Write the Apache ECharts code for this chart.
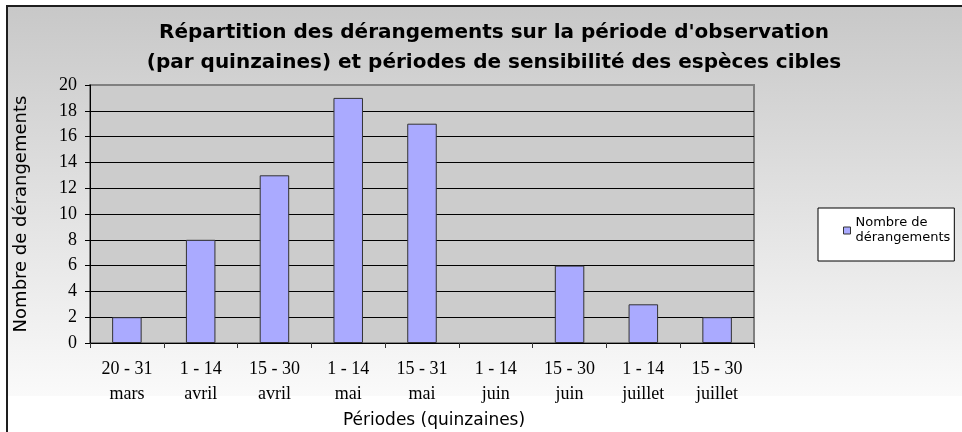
<!DOCTYPE html>
<html>
<head>
<meta charset="utf-8">
<script src="https://cdn.jsdelivr.net/npm/echarts@6/dist/echarts.min.js"></script>
<style>
  html, body { margin: 0; padding: 0; background: #fff; }
  #chart { width: 962px; height: 432px; }
</style>
</head>
<body>
<div id="chart"></div>
<script>
// Fortnight periods: day range and month
const periodRanges = ['20 - 31', '1 - 14', '15 - 30', '1 - 14', '15 - 31', '1 - 14', '15 - 30', '1 - 14', '15 - 30'];
const periodMonths = ['mars', 'avril', 'avril', 'mai', 'mai', 'juin', 'juin', 'juillet', 'juillet'];
// Number of disturbances per fortnight
const derangements = [2, 8, 13, 19, 17, 0, 6, 3, 2];
const yTicks = { min: 0, max: 20, interval: 2 };

const categories = periodRanges.map((r, i) => r + '\n' + periodMonths[i]);

// one colour per horizontal grid line; the top one blends into the plot border
const gridColors = [];
for (let v = yTicks.min; v <= yTicks.max; v += yTicks.interval) {
  gridColors.push(v === yTicks.max ? '#808080' : '#000000');
}

// empty fortnights get no outline, so nothing is drawn on the baseline
const barData = derangements.map(v => v === 0 ? { value: v, itemStyle: { borderWidth: 0 } } : v);

const chart = echarts.init(document.getElementById('chart'), null, { renderer: 'canvas' });

chart.setOption({
  backgroundColor: '#ffffff',
  animation: false,
  graphic: {
    elements: [
      {
        type: 'rect',
        z: -100,
        silent: true,
        shape: { x: 7, y: 6, width: 960, height: 390 },
        style: {
          fill: new echarts.graphic.LinearGradient(0, 0, 0, 1, [
            { offset: 0, color: '#c8c8c8' },
            { offset: 1, color: '#fafafa' }
          ])
        }
      },
      {
        type: 'rect',
        z: -90,
        silent: true,
        shape: { x: 7, y: 6, width: 962, height: 440 },
        style: { fill: 'none', stroke: '#1e1e1e', lineWidth: 2 }
      }
    ]
  },
  title: {
    text: "Répartition des dérangements sur la période d'observation\n(par quinzaines) et périodes de sensibilité des espèces cibles",
    left: 489,
    top: 13,
    textAlign: 'center',
    textStyle: {
      fontFamily: 'DejaVu Sans',
      fontWeight: 'bold',
      fontSize: 20,
      lineHeight: 30,
      color: '#000'
    }
  },
  legend: {
    orient: 'vertical',
    left: 818,
    top: 208,
    padding: [0, 4, 8, 25],
    backgroundColor: '#ffffff',
    borderColor: '#000000',
    borderWidth: 1,
    icon: 'rect',
    itemWidth: 7,
    itemHeight: 7,
    itemGap: 5,
    itemStyle: { borderColor: '#333', borderWidth: 1 },
    formatter: function (name) { return name.replace(' de ', ' de\n'); },
    textStyle: {
      fontFamily: 'DejaVu Sans',
      fontSize: 13,
      lineHeight: 15,
      color: '#000',
      padding: [15, 0, 0, 0]
    }
  },
  grid: {
    left: 90,
    right: 208,
    top: 85,
    bottom: 89,
    outerBoundsMode: 'none',
    show: true,
    backgroundColor: '#cccccc',
    borderColor: '#808080',
    borderWidth: 2
  },
  xAxis: {
    type: 'category',
    data: categories,
    name: 'Périodes (quinzaines)',
    nameLocation: 'middle',
    nameGap: 63,
    nameTextStyle: { fontFamily: 'DejaVu Sans', fontSize: 17, color: '#000', padding: [0, 0, 0, 24] },
    axisLine: { lineStyle: { color: '#000', width: 1 } },
    axisTick: { show: true, length: 5, alignWithLabel: false, lineStyle: { color: '#333' } },
    axisLabel: {
      interval: 0,
      margin: 14,
      fontFamily: 'Liberation Serif',
      fontSize: 18,
      lineHeight: 25,
      color: '#000'
    },
    splitLine: { show: false }
  },
  yAxis: {
    type: 'value',
    min: yTicks.min,
    max: yTicks.max,
    interval: yTicks.interval,
    name: 'Nombre de dérangements',
    nameLocation: 'middle',
    nameGap: 60,
    nameRotate: 90,
    nameTextStyle: { fontFamily: 'DejaVu Sans', fontSize: 18, color: '#000' },
    axisLine: { show: true, lineStyle: { color: '#000', width: 1 } },
    axisTick: { show: true, length: 5, lineStyle: { color: '#000' } },
    axisLabel: {
      margin: 13,
      fontFamily: 'Liberation Serif',
      fontSize: 18,
      color: '#000'
    },
    splitLine: { show: true, lineStyle: { color: gridColors, width: 1 } }
  },
  series: [
    {
      name: 'Nombre de dérangements',
      type: 'bar',
      data: barData,
      barWidth: '40%',
      itemStyle: { color: '#aaaaff', borderColor: '#333', borderWidth: 1 }
    }
  ]
});
</script>
</body>
</html>
